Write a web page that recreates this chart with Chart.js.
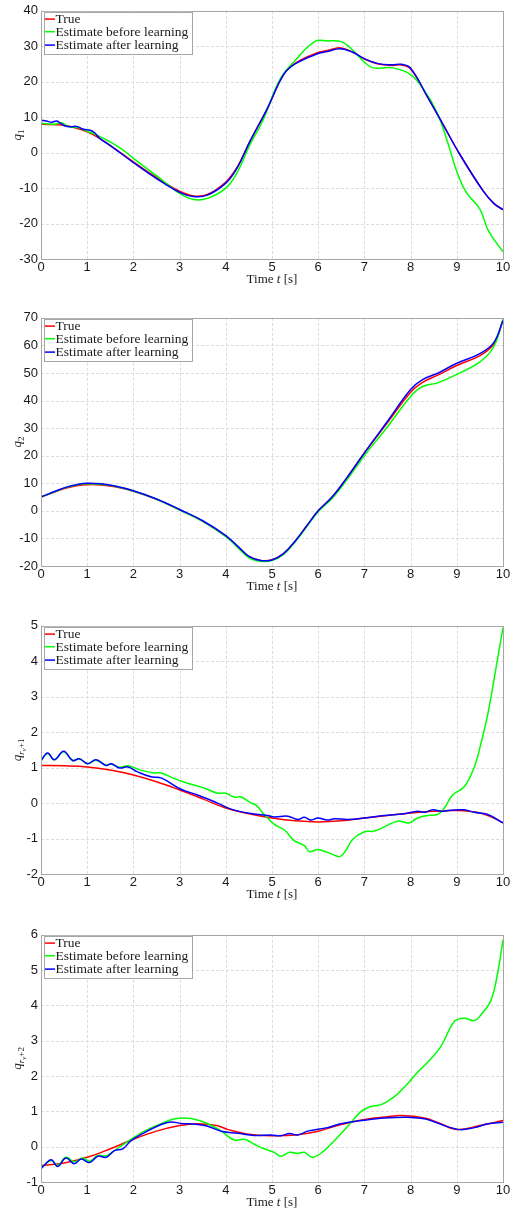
<!DOCTYPE html>
<html><head><meta charset="utf-8">
<script src="https://cdn.jsdelivr.net/npm/chart.js@4.4.0/dist/chart.umd.min.js"></script>
<style>
body{margin:0;background:#fff;width:518px;height:1211px;overflow:hidden;position:relative}
canvas{position:absolute;left:0}
</style>
</head><body>
<canvas id="c1" width="518" height="300" style="top:0px"></canvas>
<canvas id="c2" width="518" height="300" style="top:307px"></canvas>
<canvas id="c3" width="518" height="300" style="top:615px"></canvas>
<canvas id="c4" width="518" height="287" style="top:924px"></canvas>
<script>
// ---------- labels ----------
const seriesNames = ['True', 'Estimate before learning', 'Estimate after learning'];
const xTicks = [0,1,2,3,4,5,6,7,8,9,10];
const xTitle = ['Time ', 't', ' [s]'];

// ---------- panel 1 : q1 ----------
const q1TrueT = [0,0.5,1,1.27,1.5,2,2.5,3,3.3,3.6,4,4.25,4.52,4.89,5.25,5.5,5.97,6.2,6.47,6.75,7,7.3,7.6,7.8,8,8.35,8.7,9.07,9.57,9.8,10];
const q1True  = [8,7.7,5.9,4,2,-2.6,-7,-10.9,-12.2,-11.8,-8.3,-4,3.1,12.2,22,25.2,28.1,28.8,29.6,28.3,26.4,25,24.6,24.7,23.6,16.1,8,-0.6,-10.8,-14.3,-16.1];
const q1BeforeT = [0,0.15,0.3,0.45,0.6,0.8,1,1.2,1.5,1.75,2,2.5,3,3.3,3.6,4,4.25,4.52,4.8,5.17,5.5,5.93,6.2,6.5,6.7,7,7.19,7.62,8,8.3,8.57,8.8,9,9.21,9.5,9.68,10];
const q1Before  = [8.3,8.1,8.0,8.4,7.3,7.1,6.0,5.0,3.0,1.0,-1.6,-6.5,-11.5,-13.2,-12.9,-10,-5.5,2.2,9,20.6,26,31.4,31.5,31.3,29.5,25.5,23.9,23.9,22,17.5,11.4,3,-5.3,-11.3,-15.9,-21.9,-28];
const q1AfterT = [0,0.12,0.23,0.34,0.41,0.52,0.66,0.77,0.92,1.06,1.16,1.27,1.5,2,2.5,3,3.3,3.6,4,4.25,4.52,4.89,5.25,5.5,5.97,6.2,6.47,6.75,7,7.3,7.6,7.8,8,8.35,8.7,9.07,9.57,9.8,10];
const q1After  = [9.1,8.9,8.6,8.9,8.4,7.5,7.3,7.4,6.6,6.3,5.6,4.0,2.0,-2.8,-7.3,-11.2,-12.4,-12,-8.6,-4.2,3.1,12.2,22,25,27.8,28.5,29.3,28.3,26.5,25.1,24.8,24.9,23.8,16.1,8,-0.6,-10.8,-14.3,-16.1];
const q1Ticks = [-30,-20,-10,0,10,20,30,40];

// ---------- panel 2 : q2 ----------
const q2T = [0,0.35,0.55,0.77,1,1.3,1.6,2,2.5,3,3.5,4,4.3,4.5,4.75,5,5.25,5.5,5.75,6,6.3,6.6,7,7.5,8,8.25,8.6,9,9.5,9.8,10];
const q2True   = [5,7.2,8.3,9.1,9.5,9.4,8.7,7.1,4.2,0.4,-3.7,-9.2,-13.6,-16.5,-18,-17.7,-15.5,-11,-5.5,0,5,11.5,21,32,43,46.5,49.3,52.7,56.3,60.5,69];
const q2Before = [5,7.3,8.5,9.4,9.8,9.6,8.9,7.2,4.2,0.3,-3.8,-9.3,-14,-17,-18.3,-18,-15.8,-11.3,-5.8,-0.3,4.5,10.8,20,30.5,41.5,45,46.5,49.5,54,59.5,69.5];
const q2After  = [5,7.4,8.6,9.5,10,9.8,9,7.3,4.3,0.5,-3.6,-9,-13.5,-16.5,-18,-17.8,-15.5,-11,-5.5,0,5,11.5,21,32.5,44,47.5,50,53.5,57,61,69];
const q2Ticks = [-20,-10,0,10,20,30,40,50,60,70];

// ---------- panel 3 : q_{rv+1} ----------
const q3TrueT = [0,0.5,1,1.5,2,2.5,3,3.5,4,4.5,5,5.5,6,6.5,7,7.5,8,8.5,9,9.5,9.8,10];
const q3True  = [1.06,1.05,1.02,0.93,0.79,0.6,0.37,0.12,-0.14,-0.3,-0.42,-0.5,-0.53,-0.5,-0.42,-0.35,-0.28,-0.23,-0.21,-0.28,-0.42,-0.56];
const q3BeforeT = [0,0.144,0.289,0.49,0.685,0.83,1.01,1.19,1.41,1.52,1.70,1.88,2.16,2.45,2.60,2.89,3.17,3.54,3.82,4.0,4.18,4.33,4.55,4.65,4.83,5.05,5.27,5.48,5.70,5.81,5.99,6.20,6.46,6.57,6.75,7.0,7.22,7.43,7.72,7.97,8.15,8.37,8.59,8.73,8.91,9.16,9.38,9.52,9.67,9.81,10];
const q3Before  = [1.2,1.4,1.22,1.45,1.2,1.25,1.11,1.21,1.07,1.1,1.01,1.05,0.93,0.85,0.85,0.69,0.56,0.42,0.28,0.28,0.17,0.17,0.0,-0.05,-0.32,-0.6,-0.76,-1.06,-1.2,-1.37,-1.31,-1.39,-1.51,-1.39,-1.02,-0.81,-0.79,-0.67,-0.51,-0.56,-0.42,-0.35,-0.32,-0.14,0.23,0.46,1.02,1.67,2.5,3.52,4.95];
const q3AfterT = [0,0.144,0.289,0.49,0.685,0.83,1.01,1.19,1.41,1.52,1.70,1.88,2.09,2.38,2.60,3.03,3.39,3.82,4.11,4.47,4.91,5.05,5.34,5.56,5.70,5.84,5.99,6.20,6.35,6.64,7.0,7.43,7.86,8.15,8.30,8.48,8.66,8.87,9.16,9.38,9.67,10];
const q3After  = [1.2,1.41,1.22,1.46,1.2,1.25,1.11,1.22,1.06,1.11,0.99,1.02,0.88,0.74,0.71,0.39,0.23,0.0,-0.17,-0.28,-0.35,-0.39,-0.37,-0.46,-0.4,-0.48,-0.42,-0.48,-0.44,-0.46,-0.42,-0.35,-0.3,-0.23,-0.26,-0.19,-0.23,-0.2,-0.19,-0.26,-0.32,-0.56];
const q3Ticks = [-2,-1,0,1,2,3,4,5];

// ---------- panel 4 : q_{rv+2} ----------
const q4TrueT = [0,0.5,1,1.5,2,2.5,3,3.4,3.8,4.04,4.5,5,5.5,6,6.5,7,7.5,7.8,8.3,8.6,9,9.5,10];
const q4True  = [-0.53,-0.46,-0.3,-0.06,0.21,0.44,0.6,0.65,0.6,0.49,0.35,0.31,0.33,0.44,0.63,0.77,0.85,0.88,0.81,0.68,0.49,0.6,0.74];
const q4BeforeT = [0,0.22,0.36,0.54,0.72,0.90,1.05,1.23,1.41,1.59,1.95,2.24,2.60,2.89,3.25,3.61,3.90,4.18,4.40,4.62,4.83,5.05,5.19,5.38,5.56,5.70,5.88,6.13,6.35,6.64,6.93,7.14,7.36,7.65,7.94,8.15,8.37,8.66,8.95,9.16,9.38,9.52,9.74,9.88,10];
const q4Before  = [-0.6,-0.39,-0.53,-0.3,-0.43,-0.32,-0.41,-0.25,-0.26,-0.11,0.21,0.44,0.65,0.79,0.8,0.65,0.44,0.19,0.21,0.07,-0.06,-0.16,-0.27,-0.16,-0.19,-0.16,-0.3,-0.11,0.17,0.58,1.0,1.14,1.19,1.42,1.79,2.11,2.39,2.85,3.55,3.64,3.57,3.73,4.15,4.89,5.86];
const q4AfterT = [0,0.07,0.22,0.36,0.54,0.72,0.87,1.05,1.23,1.41,1.59,1.77,1.95,2.24,2.60,2.81,3.03,3.39,3.61,3.90,4.26,4.62,4.98,5.19,5.38,5.56,5.77,6.20,6.49,7.0,7.43,7.94,8.30,9.02,9.38,9.67,10];
const q4After  = [-0.62,-0.53,-0.37,-0.56,-0.32,-0.48,-0.35,-0.45,-0.27,-0.3,-0.11,-0.06,0.17,0.4,0.63,0.7,0.66,0.63,0.58,0.44,0.38,0.32,0.33,0.31,0.37,0.33,0.44,0.54,0.65,0.75,0.81,0.83,0.79,0.49,0.54,0.65,0.69];
const q4Ticks = [-1,0,1,2,3,4,5,6];

// ---------- helpers ----------
const COLORS = ['#ff0000', '#00ff00', '#0000ff'];
const SERIF = '"Liberation Serif","Times New Roman",serif';
const SANS = '"Liberation Sans",Arial,sans-serif';
function pts(ts, vs){ return ts.map((t,i)=>({x:t, y:vs[i]})); }

function drawSegs(ctx, segs, cx, cy){
  let w = 0;
  segs.forEach(s=>{ ctx.font = (s.italic?'italic ':'') + s.size + 'px ' + SERIF; s.w = ctx.measureText(s.t).width; w += s.w; });
  let x = cx - w/2;
  ctx.textBaseline = 'alphabetic'; ctx.textAlign = 'left';
  segs.forEach(s=>{ ctx.font = (s.italic?'italic ':'') + s.size + 'px ' + SERIF; ctx.fillText(s.t, x, cy + (s.dy||0)); x += s.w; });
}

function makeChart(id, plotH, series, yTicks, ylabelSegs){
  const canvas = document.getElementById(id);
  const H = canvas.height;
  const frame = {
    id: 'frame',
    beforeDatasetsDraw(chart){
      const {ctx, chartArea:a, scales:{x, y}} = chart;
      ctx.save();
      ctx.strokeStyle = '#dcdcdc'; ctx.lineWidth = 1; ctx.setLineDash([3,2]);
      xTicks.forEach(v=>{ const px = Math.round(x.getPixelForValue(v))+0.5; ctx.beginPath(); ctx.moveTo(px,a.top); ctx.lineTo(px,a.bottom); ctx.stroke(); });
      yTicks.forEach(v=>{ const py = Math.round(y.getPixelForValue(v))+0.5; ctx.beginPath(); ctx.moveTo(a.left,py); ctx.lineTo(a.right,py); ctx.stroke(); });
      ctx.restore();
    },
    afterDatasetsDraw(chart){
      const {ctx, chartArea:a} = chart;
      ctx.save();
      ctx.strokeStyle = '#a6a6a6'; ctx.lineWidth = 1; ctx.setLineDash([]);
      ctx.strokeRect(Math.round(a.left)+0.5, Math.round(a.top)+0.5, Math.round(a.right-a.left), Math.round(a.bottom-a.top));
      const lx = a.left + 3, ly = a.top + 1;
      ctx.fillStyle = '#fff'; ctx.fillRect(lx, ly, 148, 42);
      ctx.strokeStyle = '#a6a6a6'; ctx.strokeRect(Math.round(lx)+0.5, Math.round(ly)+0.5, 148, 42);
      const rows = [8.3, 20.9, 34.3];
      seriesNames.forEach((n,i)=>{
        const yy = a.top + rows[i];
        ctx.strokeStyle = COLORS[i]; ctx.lineWidth = 1.5;
        ctx.beginPath(); ctx.moveTo(a.left+4, yy); ctx.lineTo(a.left+14, yy); ctx.stroke();
        ctx.fillStyle = '#1a1a1a'; ctx.font = '13.5px ' + SERIF; ctx.textBaseline = 'middle'; ctx.textAlign = 'left';
        ctx.fillText(n, a.left+14.5, yy+0.5);
      });
      ctx.fillStyle = '#1a1a1a';
      drawSegs(ctx, [{t:xTitle[0], size:13},{t:xTitle[1], size:13, italic:true},{t:xTitle[2], size:13}], (a.left+a.right)/2, a.bottom + 23.5);
      ctx.translate(17, (a.top+a.bottom)/2);
      ctx.rotate(-Math.PI/2);
      drawSegs(ctx, ylabelSegs, 0, 4);
      ctx.restore();
    }
  };
  return new Chart(canvas, {
    type: 'line',
    data: {
      datasets: series.map((s,i)=>({
        label: seriesNames[i],
        data: s,
        borderColor: COLORS[i],
        borderWidth: 1.5,
        pointRadius: 0,
        fill: false,
        tension: 0.4,
        order: 3 - i
      }))
    },
    options: {
      responsive: false,
      animation: false,
      layout: { padding: { left: 0, right: 15, top: 7, bottom: 0 } },
      plugins: { legend: { display: false }, tooltip: { enabled: false } },
      scales: {
        x: {
          type: 'linear', min: 0, max: 10,
          grid: { display: false, drawTicks: false },
          border: { display: false },
          afterFit(s){ s.height = H - 7 - plotH; },
          afterBuildTicks(s){ s.ticks = xTicks.map(v=>({value:v})); },
          ticks: { color: '#1a1a1a', font: { family: SANS, size: 13 }, padding: 1, maxRotation: 0, autoSkip: false }
        },
        y: {
          type: 'linear', min: yTicks[0], max: yTicks[yTicks.length-1],
          grid: { display: false, drawTicks: false },
          border: { display: false },
          afterFit(s){ s.width = 41; },
          afterBuildTicks(s){ s.ticks = yTicks.map(v=>({value:v})); },
          ticks: { color: '#1a1a1a', font: { family: SANS, size: 13 }, padding: 3, autoSkip: false }
        }
      }
    },
    plugins: [frame]
  });
}

makeChart('c1', 252, [pts(q1TrueT,q1True), pts(q1BeforeT,q1Before), pts(q1AfterT,q1After)], q1Ticks,
  [{t:'q', size:13, italic:true},{t:'1', size:9, dy:3}]);
makeChart('c2', 252, [pts(q2T,q2True), pts(q2T,q2Before), pts(q2T,q2After)], q2Ticks,
  [{t:'q', size:13, italic:true},{t:'2', size:9, dy:3}]);
makeChart('c3', 252, [pts(q3TrueT,q3True), pts(q3BeforeT,q3Before), pts(q3AfterT,q3After)], q3Ticks,
  [{t:'q', size:13, italic:true},{t:'r', size:9, italic:true, dy:3},{t:'v', size:7, italic:true, dy:5},{t:'+1', size:9, dy:3}]);
makeChart('c4', 251, [pts(q4TrueT,q4True), pts(q4BeforeT,q4Before), pts(q4AfterT,q4After)], q4Ticks,
  [{t:'q', size:13, italic:true},{t:'r', size:9, italic:true, dy:3},{t:'v', size:7, italic:true, dy:5},{t:'+2', size:9, dy:3}]);
</script>
</body></html>
